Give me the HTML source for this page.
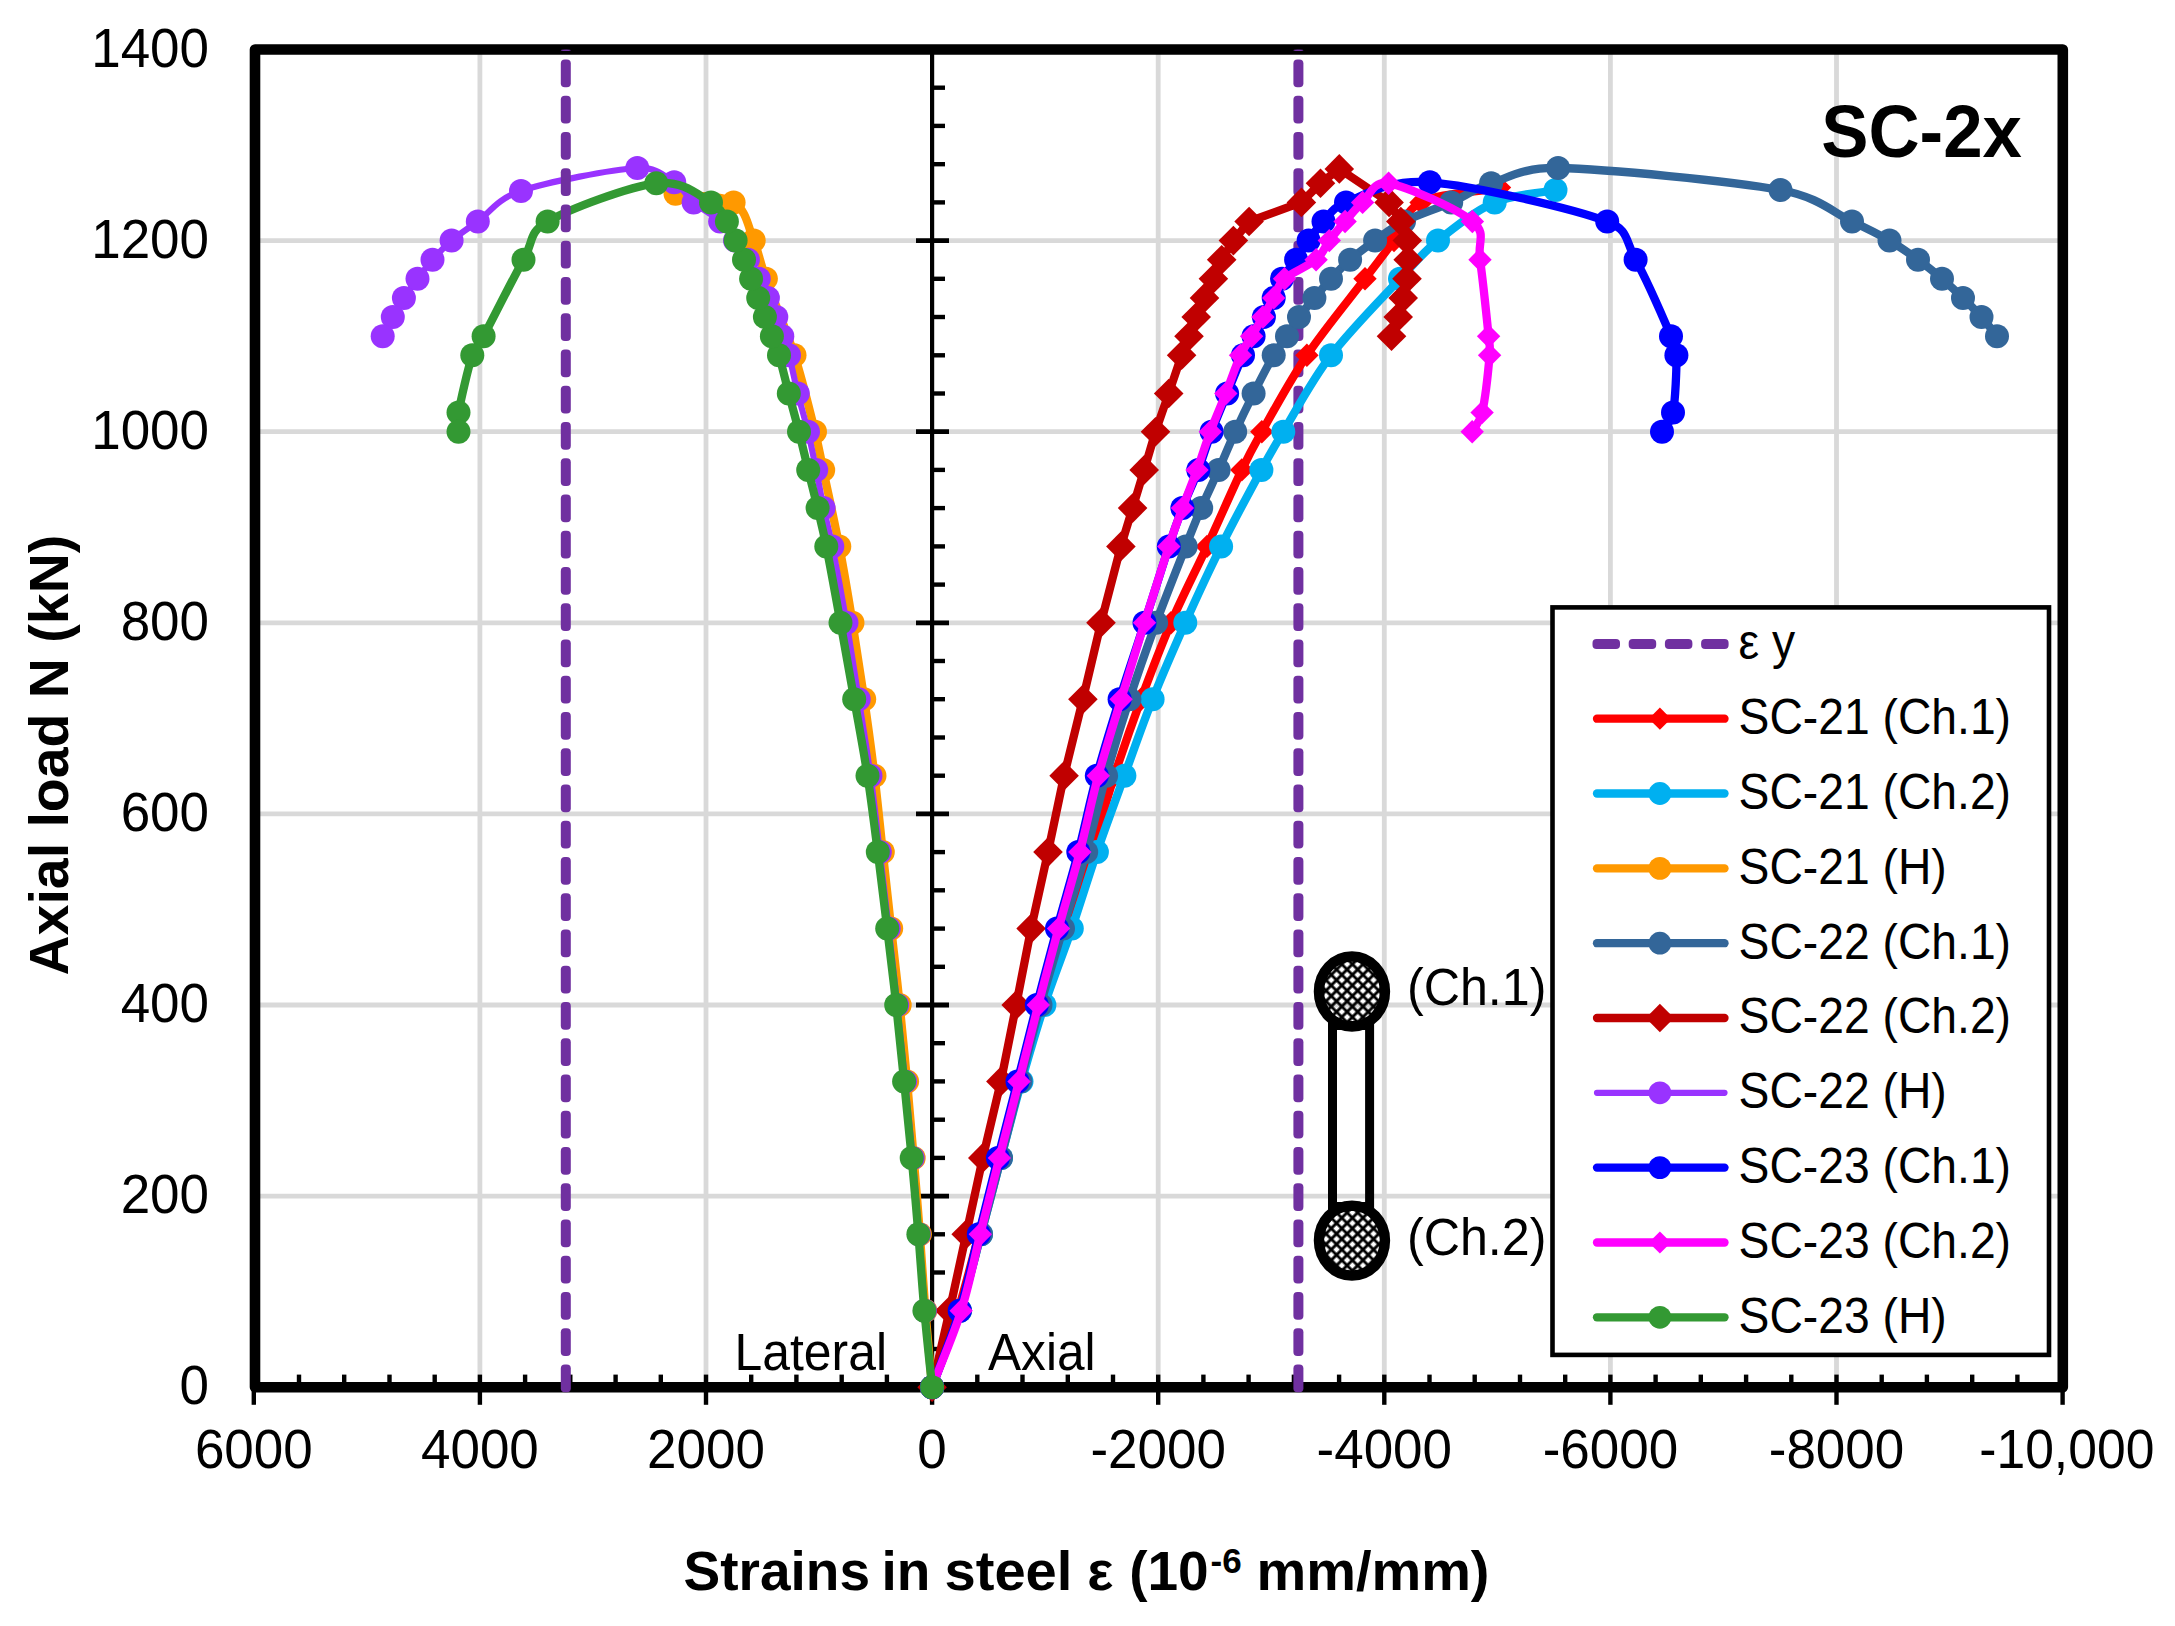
<!DOCTYPE html>
<html lang="en"><head><meta charset="utf-8"><title>SC-2x axial load vs strains in steel</title>
<style>html,body{margin:0;padding:0;background:#fff}body{width:2175px;height:1626px;overflow:hidden}svg{display:block}text{font-family:"Liberation Sans",sans-serif;fill:#000}.b{font-weight:bold}</style></head><body>
<svg width="2175" height="1626" viewBox="0 0 2175 1626">
<defs><pattern id="hatch" width="7.474" height="7.474" patternUnits="userSpaceOnUse" patternTransform="translate(1347.1 980.07) rotate(45)"><path d="M0 0H7.474M0 0V7.474M0 7.474H7.474M7.474 0V7.474" stroke="#000" stroke-width="2.9" fill="none"/></pattern></defs>
<rect width="2175" height="1626" fill="#fff"/>
<g stroke="#D9D9D9" stroke-width="4.8" fill="none"><path d="M479.9 49.5V1387.2"/><path d="M706 49.5V1387.2"/><path d="M1158.2 49.5V1387.2"/><path d="M1384.3 49.5V1387.2"/><path d="M1610.4 49.5V1387.2"/><path d="M1836.5 49.5V1387.2"/><path d="M255 1196.1H2062.8"/><path d="M255 1005H2062.8"/><path d="M255 813.9H2062.8"/><path d="M255 622.8H2062.8"/><path d="M255 431.7H2062.8"/><path d="M255 240.6H2062.8"/></g>
<rect x="255" y="49.5" width="1807.8" height="1337.7" fill="none" stroke="#000" stroke-width="10.6" stroke-linejoin="round"/>
<g stroke="#000" stroke-width="4.4" fill="none"><path d="M253.8 1374.6V1404.8"/><path d="M299 1374.6V1387.2"/><path d="M344.2 1374.6V1387.2"/><path d="M389.5 1374.6V1387.2"/><path d="M434.7 1374.6V1387.2"/><path d="M479.9 1374.6V1404.8"/><path d="M525.1 1374.6V1387.2"/><path d="M570.3 1374.6V1387.2"/><path d="M615.6 1374.6V1387.2"/><path d="M660.8 1374.6V1387.2"/><path d="M706 1374.6V1404.8"/><path d="M751.2 1374.6V1387.2"/><path d="M796.4 1374.6V1387.2"/><path d="M841.7 1374.6V1387.2"/><path d="M886.9 1374.6V1387.2"/><path d="M932.1 1374.6V1404.8"/><path d="M977.3 1374.6V1387.2"/><path d="M1022.5 1374.6V1387.2"/><path d="M1067.8 1374.6V1387.2"/><path d="M1113 1374.6V1387.2"/><path d="M1158.2 1374.6V1404.8"/><path d="M1203.4 1374.6V1387.2"/><path d="M1248.6 1374.6V1387.2"/><path d="M1293.9 1374.6V1387.2"/><path d="M1339.1 1374.6V1387.2"/><path d="M1384.3 1374.6V1404.8"/><path d="M1429.5 1374.6V1387.2"/><path d="M1474.7 1374.6V1387.2"/><path d="M1520 1374.6V1387.2"/><path d="M1565.2 1374.6V1387.2"/><path d="M1610.4 1374.6V1404.8"/><path d="M1655.6 1374.6V1387.2"/><path d="M1700.8 1374.6V1387.2"/><path d="M1746.1 1374.6V1387.2"/><path d="M1791.3 1374.6V1387.2"/><path d="M1836.5 1374.6V1404.8"/><path d="M1881.7 1374.6V1387.2"/><path d="M1926.9 1374.6V1387.2"/><path d="M1972.2 1374.6V1387.2"/><path d="M2017.4 1374.6V1387.2"/><path d="M2062.6 1374.6V1404.8"/><path d="M932.1 49.5V1387.2" stroke-width="4.2"/><path d="M932.1 1349H945"/><path d="M932.1 1310.8H945"/><path d="M932.1 1272.5H945"/><path d="M932.1 1234.3H945"/><path d="M916 1196.1H949" stroke-width="4.8"/><path d="M932.1 1157.9H945"/><path d="M932.1 1119.7H945"/><path d="M932.1 1081.4H945"/><path d="M932.1 1043.2H945"/><path d="M916 1005H949" stroke-width="4.8"/><path d="M932.1 966.8H945"/><path d="M932.1 928.6H945"/><path d="M932.1 890.3H945"/><path d="M932.1 852.1H945"/><path d="M916 813.9H949" stroke-width="4.8"/><path d="M932.1 775.7H945"/><path d="M932.1 737.5H945"/><path d="M932.1 699.2H945"/><path d="M932.1 661H945"/><path d="M916 622.8H949" stroke-width="4.8"/><path d="M932.1 584.6H945"/><path d="M932.1 546.4H945"/><path d="M932.1 508.1H945"/><path d="M932.1 469.9H945"/><path d="M916 431.7H949" stroke-width="4.8"/><path d="M932.1 393.5H945"/><path d="M932.1 355.3H945"/><path d="M932.1 317H945"/><path d="M932.1 278.8H945"/><path d="M916 240.6H949" stroke-width="4.8"/><path d="M932.1 202.4H945"/><path d="M932.1 164.2H945"/><path d="M932.1 125.9H945"/><path d="M932.1 87.7H945"/></g>
<g><text transform="translate(253.8 1467.7) scale(0.9615 1)" font-size="55.1" text-anchor="middle">6000</text><text transform="translate(479.9 1467.7) scale(0.9615 1)" font-size="55.1" text-anchor="middle">4000</text><text transform="translate(706 1467.7) scale(0.9615 1)" font-size="55.1" text-anchor="middle">2000</text><text transform="translate(932.1 1467.7) scale(0.9615 1)" font-size="55.1" text-anchor="middle">0</text><text transform="translate(1158.2 1467.7) scale(0.9615 1)" font-size="55.1" text-anchor="middle">-2000</text><text transform="translate(1384.3 1467.7) scale(0.9615 1)" font-size="55.1" text-anchor="middle">-4000</text><text transform="translate(1610.4 1467.7) scale(0.9615 1)" font-size="55.1" text-anchor="middle">-6000</text><text transform="translate(1836.5 1467.7) scale(0.9615 1)" font-size="55.1" text-anchor="middle">-8000</text><text transform="translate(2066.8 1467.7) scale(0.9375 1)" font-size="55.1" text-anchor="middle">-10,000</text><text transform="translate(209 1404.3) scale(0.9615 1)" font-size="55.1" text-anchor="end">0</text><text transform="translate(209 1213.2) scale(0.9615 1)" font-size="55.1" text-anchor="end">200</text><text transform="translate(209 1022.1) scale(0.9615 1)" font-size="55.1" text-anchor="end">400</text><text transform="translate(209 831) scale(0.9615 1)" font-size="55.1" text-anchor="end">600</text><text transform="translate(209 639.9) scale(0.9615 1)" font-size="55.1" text-anchor="end">800</text><text transform="translate(209 448.8) scale(0.9615 1)" font-size="55.1" text-anchor="end">1000</text><text transform="translate(209 257.7) scale(0.9615 1)" font-size="55.1" text-anchor="end">1200</text><text transform="translate(209 66.6) scale(0.9615 1)" font-size="55.1" text-anchor="end">1400</text></g>
<g fill="#7030A0"><rect x="1293.4" y="1364.6" width="10" height="27.7" rx="4"/><rect x="1293.4" y="1328.3" width="10" height="27.7" rx="4"/><rect x="1293.4" y="1292.1" width="10" height="27.7" rx="4"/><rect x="1293.4" y="1255.8" width="10" height="27.7" rx="4"/><rect x="1293.4" y="1219.6" width="10" height="27.7" rx="4"/><rect x="1293.4" y="1183.3" width="10" height="27.7" rx="4"/><rect x="1293.4" y="1147.1" width="10" height="27.7" rx="4"/><rect x="1293.4" y="1110.8" width="10" height="27.7" rx="4"/><rect x="1293.4" y="1074.6" width="10" height="27.7" rx="4"/><rect x="1293.4" y="1038.3" width="10" height="27.7" rx="4"/><rect x="1293.4" y="1002.1" width="10" height="27.7" rx="4"/><rect x="1293.4" y="965.8" width="10" height="27.7" rx="4"/><rect x="1293.4" y="929.6" width="10" height="27.7" rx="4"/><rect x="1293.4" y="893.3" width="10" height="27.7" rx="4"/><rect x="1293.4" y="857.1" width="10" height="27.7" rx="4"/><rect x="1293.4" y="820.8" width="10" height="27.7" rx="4"/><rect x="1293.4" y="784.6" width="10" height="27.7" rx="4"/><rect x="1293.4" y="748.3" width="10" height="27.7" rx="4"/><rect x="1293.4" y="712.1" width="10" height="27.7" rx="4"/><rect x="1293.4" y="675.8" width="10" height="27.7" rx="4"/><rect x="1293.4" y="639.6" width="10" height="27.7" rx="4"/><rect x="1293.4" y="603.3" width="10" height="27.7" rx="4"/><rect x="1293.4" y="567.1" width="10" height="27.7" rx="4"/><rect x="1293.4" y="530.8" width="10" height="27.7" rx="4"/><rect x="1293.4" y="494.6" width="10" height="27.7" rx="4"/><rect x="1293.4" y="458.3" width="10" height="27.7" rx="4"/><rect x="1293.4" y="422.1" width="10" height="27.7" rx="4"/><rect x="1293.4" y="385.8" width="10" height="27.7" rx="4"/><rect x="1293.4" y="349.6" width="10" height="27.7" rx="4"/><rect x="1293.4" y="313.3" width="10" height="27.7" rx="4"/><rect x="1293.4" y="277.1" width="10" height="27.7" rx="4"/><rect x="1293.4" y="240.8" width="10" height="27.7" rx="4"/><rect x="1293.4" y="204.6" width="10" height="27.7" rx="4"/><rect x="1293.4" y="168.3" width="10" height="27.7" rx="4"/><rect x="1293.4" y="132.1" width="10" height="27.7" rx="4"/><rect x="1293.4" y="95.8" width="10" height="27.7" rx="4"/><rect x="1293.4" y="59.6" width="10" height="27.7" rx="4"/><rect x="1293.4" y="49.5" width="10" height="1.5" rx="4"/></g>
<text x="734.5" y="1369.8" font-size="51" textLength="152.5" lengthAdjust="spacingAndGlyphs">Lateral</text>
<text x="988" y="1369.8" font-size="51" textLength="107.5" lengthAdjust="spacingAndGlyphs">Axial</text>
<g><path d="M932.1 1387.2 C940.7 1361.7 950.2 1336.2 958 1310.8 C965.8 1285.3 972.1 1259.8 979 1234.3 C985.9 1208.8 992.7 1183.4 999.5 1157.9 C1006.3 1132.4 1013.1 1106.9 1020 1081.4 C1026.9 1056 1033.3 1030.5 1041 1005 C1048.7 979.5 1057.6 954 1066 928.6 C1074.4 903.1 1083.1 877.6 1091.2 852.1 C1099.3 826.6 1106.1 801.2 1114.4 775.7 C1122.7 750.2 1131.6 724.7 1141 699.2 C1150.4 673.8 1160 648.3 1171 622.8 C1182 597.3 1195.2 571.8 1207 546.4 C1218.8 520.9 1232.7 489 1241.8 469.9 C1250.9 450.8 1251.2 450.5 1261.8 431.7 C1272.7 412.6 1289.7 380.7 1306.9 355.3 C1324.1 329.8 1350.5 297.9 1365 278.8 C1379.5 259.7 1384.7 253.3 1394 240.6 C1403.3 227.9 1403.4 211.2 1421 202.4 C1438.6 193.5 1473.3 192.5 1499.5 187.6" fill="none" stroke="#FF0000" stroke-width="8.3" stroke-linejoin="round" stroke-linecap="round"/><g fill="#FF0000"><path d="M932.1 1375.5L943.8 1387.2L932.1 1398.9L920.4 1387.2Z"/><path d="M958 1299.1L969.7 1310.8L958 1322.5L946.3 1310.8Z"/><path d="M979 1222.6L990.7 1234.3L979 1246L967.3 1234.3Z"/><path d="M999.5 1146.2L1011.2 1157.9L999.5 1169.6L987.8 1157.9Z"/><path d="M1020 1069.7L1031.7 1081.4L1020 1093.1L1008.3 1081.4Z"/><path d="M1041 993.3L1052.7 1005L1041 1016.7L1029.3 1005Z"/><path d="M1066 916.9L1077.7 928.6L1066 940.3L1054.3 928.6Z"/><path d="M1091.2 840.4L1102.9 852.1L1091.2 863.8L1079.5 852.1Z"/><path d="M1114.4 764L1126.1 775.7L1114.4 787.4L1102.7 775.7Z"/><path d="M1141 687.5L1152.7 699.2L1141 710.9L1129.3 699.2Z"/><path d="M1171 611.1L1182.7 622.8L1171 634.5L1159.3 622.8Z"/><path d="M1207 534.7L1218.7 546.4L1207 558.1L1195.3 546.4Z"/><path d="M1241.8 458.2L1253.5 469.9L1241.8 481.6L1230.1 469.9Z"/><path d="M1261.8 420L1273.5 431.7L1261.8 443.4L1250.1 431.7Z"/><path d="M1306.9 343.6L1318.6 355.3L1306.9 367L1295.2 355.3Z"/><path d="M1365 267.1L1376.7 278.8L1365 290.5L1353.3 278.8Z"/><path d="M1394 228.9L1405.7 240.6L1394 252.3L1382.3 240.6Z"/><path d="M1421 190.7L1432.7 202.4L1421 214.1L1409.3 202.4Z"/><path d="M1499.5 175.9L1511.2 187.6L1499.5 199.3L1487.8 187.6Z"/></g></g>
<g><path d="M932.1 1387.2 C941.4 1361.7 951.9 1336.2 960 1310.8 C968.1 1285.3 974.2 1259.8 981 1234.3 C987.8 1208.8 994.2 1183.4 1001 1157.9 C1007.8 1132.4 1014.3 1106.9 1021.5 1081.4 C1028.7 1056 1036 1030.5 1044.4 1005 C1052.8 979.5 1063 954 1071.8 928.6 C1080.5 903.1 1088.1 877.6 1096.9 852.1 C1105.7 826.6 1115.1 801.2 1124.4 775.7 C1133.7 750.2 1142.4 724.7 1152.6 699.2 C1162.8 673.8 1173.9 648.3 1185.3 622.8 C1196.7 597.3 1208.4 571.8 1221.1 546.4 C1233.8 520.9 1251 489 1261.4 469.9 C1271.8 450.8 1271.9 450.5 1283.3 431.7 C1294.9 412.6 1311.5 380.7 1331 355.3 C1350.5 329.8 1382.2 297.9 1400 278.8 C1417.8 259.7 1422.2 253.3 1438 240.6 C1453.8 227.9 1475.1 210.8 1494.7 202.4 C1514.3 193.9 1535.2 194.1 1555.5 190" fill="none" stroke="#00B0F0" stroke-width="8.3" stroke-linejoin="round" stroke-linecap="round"/><g fill="#00B0F0"><circle cx="932.1" cy="1387.2" r="12"/><circle cx="960" cy="1310.8" r="12"/><circle cx="981" cy="1234.3" r="12"/><circle cx="1001" cy="1157.9" r="12"/><circle cx="1021.5" cy="1081.4" r="12"/><circle cx="1044.4" cy="1005" r="12"/><circle cx="1071.8" cy="928.6" r="12"/><circle cx="1096.9" cy="852.1" r="12"/><circle cx="1124.4" cy="775.7" r="12"/><circle cx="1152.6" cy="699.2" r="12"/><circle cx="1185.3" cy="622.8" r="12"/><circle cx="1221.1" cy="546.4" r="12"/><circle cx="1261.4" cy="469.9" r="12"/><circle cx="1283.3" cy="431.7" r="12"/><circle cx="1331" cy="355.3" r="12"/><circle cx="1400" cy="278.8" r="12"/><circle cx="1438" cy="240.6" r="12"/><circle cx="1494.7" cy="202.4" r="12"/><circle cx="1555.5" cy="190" r="12"/></g></g>
<g><path d="M932.1 1387.2 C929.9 1361.7 927.4 1336.2 925.4 1310.8 C923.4 1285.3 921.8 1259.8 919.9 1234.3 C918 1208.8 915.8 1183.4 913.7 1157.9 C911.6 1132.4 909.4 1106.9 907.1 1081.4 C904.8 1056 902.4 1030.5 899.7 1005 C897.1 979.5 894 954 891.2 928.6 C888.4 903.1 885.6 877.6 882.8 852.1 C880 826.6 877.6 801.2 874.5 775.7 C871.4 750.2 867.9 724.7 864.2 699.2 C860.5 673.8 856.6 648.3 852.5 622.8 C848.4 597.3 844.2 571.8 839.3 546.4 C834.4 520.9 827.2 489 823.2 469.9 C819.2 450.8 819.7 450.7 815 431.7 C810.2 412.6 802.7 380.7 794.5 355.3 C786.3 329.8 772.7 297.9 765.9 278.8 C759.2 259.9 759.1 253.3 753.7 240.6 C748.3 227.9 746.6 210.2 733.6 202.4 C720.6 194.6 694.9 196.6 675.5 193.8" fill="none" stroke="#FF9900" stroke-width="8.3" stroke-linejoin="round" stroke-linecap="round"/><g fill="#FF9900"><circle cx="932.1" cy="1387.2" r="12"/><circle cx="925.4" cy="1310.8" r="12"/><circle cx="919.9" cy="1234.3" r="12"/><circle cx="913.7" cy="1157.9" r="12"/><circle cx="907.1" cy="1081.4" r="12"/><circle cx="899.7" cy="1005" r="12"/><circle cx="891.2" cy="928.6" r="12"/><circle cx="882.8" cy="852.1" r="12"/><circle cx="874.5" cy="775.7" r="12"/><circle cx="864.2" cy="699.2" r="12"/><circle cx="852.5" cy="622.8" r="12"/><circle cx="839.3" cy="546.4" r="12"/><circle cx="823.2" cy="469.9" r="12"/><circle cx="815" cy="431.7" r="12"/><circle cx="794.5" cy="355.3" r="12"/><circle cx="765.9" cy="278.8" r="12"/><circle cx="753.7" cy="240.6" r="12"/><circle cx="733.6" cy="202.4" r="12"/><circle cx="675.5" cy="193.8" r="12"/></g></g>
<g><path d="M932.1 1387.2 C941.4 1361.7 951.9 1336.2 960 1310.8 C968.1 1285.3 974.2 1259.8 981 1234.3 C987.8 1208.8 994.4 1183.4 1001 1157.9 C1007.6 1132.4 1013.9 1106.9 1020.5 1081.4 C1027.1 1056 1033.4 1030.5 1040.5 1005 C1047.6 979.5 1055.4 954 1063 928.6 C1070.6 903.1 1079 877.6 1086.2 852.1 C1093.4 826.6 1098.9 801.2 1106.1 775.7 C1113.3 750.2 1121.1 724.7 1129.4 699.2 C1137.7 673.8 1146.7 648.3 1156.1 622.8 C1165.5 597.3 1178.2 565.5 1185.7 546.4 C1193.2 527.2 1195.7 520.9 1201.2 508.1 C1206.7 495.4 1212.9 482.7 1218.6 469.9 C1224.3 457.2 1229.4 444.4 1235.2 431.7 C1241 419 1247.2 406.2 1253.6 393.5 C1260 380.7 1268.1 364.8 1273.7 355.3 C1279.3 345.7 1282.8 342.5 1287 336.2 C1291.2 329.8 1294.4 323.4 1299 317 C1303.6 310.7 1309.1 304.3 1314.4 297.9 C1319.7 291.6 1325 285.2 1331 278.8 C1337 272.4 1342.8 266.1 1350.1 259.7 C1357.4 253.3 1366.1 247 1375.1 240.6 C1384.1 234.2 1391.3 227.9 1404 221.5 C1416.7 215.1 1436.7 208.8 1451.2 202.4 C1465.7 196 1473.3 189 1491.1 183.3 C1508.9 177.5 1523.7 167.2 1558.1 168 C1606.3 169.1 1731.5 181 1780.5 190 C1818.9 197 1833.8 213 1852 221.5 C1870.2 229.9 1878.5 234.2 1889.5 240.6 C1900.5 247 1909.2 253.3 1918 259.7 C1926.8 266.1 1934.5 272.4 1942 278.8 C1949.5 285.2 1956.4 291.6 1963 297.9 C1969.6 304.3 1975.8 310.7 1981.5 317 C1987.2 323.4 1991.8 329.8 1997 336.2" fill="none" stroke="#336699" stroke-width="8.3" stroke-linejoin="round" stroke-linecap="round"/><g fill="#336699"><circle cx="932.1" cy="1387.2" r="12"/><circle cx="960" cy="1310.8" r="12"/><circle cx="981" cy="1234.3" r="12"/><circle cx="1001" cy="1157.9" r="12"/><circle cx="1020.5" cy="1081.4" r="12"/><circle cx="1040.5" cy="1005" r="12"/><circle cx="1063" cy="928.6" r="12"/><circle cx="1086.2" cy="852.1" r="12"/><circle cx="1106.1" cy="775.7" r="12"/><circle cx="1129.4" cy="699.2" r="12"/><circle cx="1156.1" cy="622.8" r="12"/><circle cx="1185.7" cy="546.4" r="12"/><circle cx="1201.2" cy="508.1" r="12"/><circle cx="1218.6" cy="469.9" r="12"/><circle cx="1235.2" cy="431.7" r="12"/><circle cx="1253.6" cy="393.5" r="12"/><circle cx="1273.7" cy="355.3" r="12"/><circle cx="1287" cy="336.2" r="12"/><circle cx="1299" cy="317" r="12"/><circle cx="1314.4" cy="297.9" r="12"/><circle cx="1331" cy="278.8" r="12"/><circle cx="1350.1" cy="259.7" r="12"/><circle cx="1375.1" cy="240.6" r="12"/><circle cx="1404" cy="221.5" r="12"/><circle cx="1451.2" cy="202.4" r="12"/><circle cx="1491.1" cy="183.3" r="12"/><circle cx="1558.1" cy="168" r="12"/><circle cx="1780.5" cy="190" r="12"/><circle cx="1852" cy="221.5" r="12"/><circle cx="1889.5" cy="240.6" r="12"/><circle cx="1918" cy="259.7" r="12"/><circle cx="1942" cy="278.8" r="12"/><circle cx="1963" cy="297.9" r="12"/><circle cx="1981.5" cy="317" r="12"/><circle cx="1997" cy="336.2" r="12"/></g></g>
<g><path d="M932.1 1387.2 L949.6 1310.8 L966.2 1234.3 L982.8 1157.9 L1000.9 1081.4 L1016.2 1005 L1031.1 928.6 L1048 852.1 L1064.1 775.7 L1082.9 699.2 L1101 622.8 L1120.9 546.4 L1132.6 508.1 L1144.2 469.9 L1155.5 431.7 L1168.7 393.5 L1181.6 355.3 L1189 336.2 L1196.2 317 L1204.5 297.9 L1213.4 278.8 L1221.7 259.7 L1233.4 240.6 L1249.1 221.5 L1301.4 202.4 L1320.5 183.3 L1339.3 168.9 L1389.1 202.4 L1400.8 221.5 L1407.3 240.6 L1408.2 259.7 L1407 278.8 L1403.2 297.9 L1398.2 317 L1391.5 336.2" fill="none" stroke="#C00000" stroke-width="8.3" stroke-linejoin="round" stroke-linecap="round"/><g fill="#C00000"><path d="M932.1 1372.4L946.9 1387.2L932.1 1402L917.3 1387.2Z"/><path d="M949.6 1296L964.4 1310.8L949.6 1325.6L934.8 1310.8Z"/><path d="M966.2 1219.5L981 1234.3L966.2 1249.1L951.4 1234.3Z"/><path d="M982.8 1143.1L997.6 1157.9L982.8 1172.7L968 1157.9Z"/><path d="M1000.9 1066.6L1015.7 1081.4L1000.9 1096.2L986.1 1081.4Z"/><path d="M1016.2 990.2L1031 1005L1016.2 1019.8L1001.4 1005Z"/><path d="M1031.1 913.8L1045.9 928.6L1031.1 943.4L1016.3 928.6Z"/><path d="M1048 837.3L1062.8 852.1L1048 866.9L1033.2 852.1Z"/><path d="M1064.1 760.9L1078.9 775.7L1064.1 790.5L1049.3 775.7Z"/><path d="M1082.9 684.4L1097.7 699.2L1082.9 714L1068.1 699.2Z"/><path d="M1101 608L1115.8 622.8L1101 637.6L1086.2 622.8Z"/><path d="M1120.9 531.6L1135.7 546.4L1120.9 561.2L1106.1 546.4Z"/><path d="M1132.6 493.3L1147.4 508.1L1132.6 522.9L1117.8 508.1Z"/><path d="M1144.2 455.1L1159 469.9L1144.2 484.7L1129.4 469.9Z"/><path d="M1155.5 416.9L1170.3 431.7L1155.5 446.5L1140.7 431.7Z"/><path d="M1168.7 378.7L1183.5 393.5L1168.7 408.3L1153.9 393.5Z"/><path d="M1181.6 340.5L1196.4 355.3L1181.6 370.1L1166.8 355.3Z"/><path d="M1189 321.4L1203.8 336.2L1189 351L1174.2 336.2Z"/><path d="M1196.2 302.2L1211 317L1196.2 331.8L1181.4 317Z"/><path d="M1204.5 283.1L1219.3 297.9L1204.5 312.7L1189.7 297.9Z"/><path d="M1213.4 264L1228.2 278.8L1213.4 293.6L1198.6 278.8Z"/><path d="M1221.7 244.9L1236.5 259.7L1221.7 274.5L1206.9 259.7Z"/><path d="M1233.4 225.8L1248.2 240.6L1233.4 255.4L1218.6 240.6Z"/><path d="M1249.1 206.7L1263.9 221.5L1249.1 236.3L1234.3 221.5Z"/><path d="M1301.4 187.6L1316.2 202.4L1301.4 217.2L1286.6 202.4Z"/><path d="M1320.5 168.5L1335.3 183.3L1320.5 198.1L1305.7 183.3Z"/><path d="M1339.3 154.1L1354.1 168.9L1339.3 183.7L1324.5 168.9Z"/><path d="M1389.1 187.6L1403.9 202.4L1389.1 217.2L1374.3 202.4Z"/><path d="M1400.8 206.7L1415.6 221.5L1400.8 236.3L1386 221.5Z"/><path d="M1407.3 225.8L1422.1 240.6L1407.3 255.4L1392.5 240.6Z"/><path d="M1408.2 244.9L1423 259.7L1408.2 274.5L1393.4 259.7Z"/><path d="M1407 264L1421.8 278.8L1407 293.6L1392.2 278.8Z"/><path d="M1403.2 283.1L1418 297.9L1403.2 312.7L1388.4 297.9Z"/><path d="M1398.2 302.2L1413 317L1398.2 331.8L1383.4 317Z"/><path d="M1391.5 321.4L1406.3 336.2L1391.5 351L1376.7 336.2Z"/></g></g>
<g><path d="M932.1 1387.2 C929.7 1361.7 927.1 1336.2 924.9 1310.8 C922.7 1285.3 920.9 1259.8 918.9 1234.3 C916.9 1208.8 915 1183.4 912.7 1157.9 C910.4 1132.4 907.7 1106.9 905.1 1081.4 C902.5 1056 899.9 1030.5 897.2 1005 C894.5 979.5 891.6 954 888.7 928.6 C885.8 903.1 882.8 877.6 879.8 852.1 C876.8 826.6 874 801.2 870.5 775.7 C867 750.2 862.7 724.7 858.7 699.2 C854.7 673.8 850.9 648.3 846.5 622.8 C842.1 597.3 836.1 565.5 832.3 546.4 C828.5 527.2 826.3 520.9 823.6 508.1 C820.9 495.4 818.8 482.7 816.2 469.9 C813.6 457.2 811.1 444.4 808 431.7 C804.9 419 801 406.2 797.8 393.5 C794.6 380.7 791.6 364.8 789 355.3 C786.4 345.7 784.4 342.5 782.3 336.2 C780.2 329.8 778.7 323.4 776.3 317 C773.9 310.7 770.8 304.3 767.9 297.9 C765 291.6 762.1 285.2 758.8 278.8 C755.5 272.4 751.9 266.1 747.9 259.7 C743.9 253.3 739.6 247 735 240.6 C730.4 234.2 727 227.9 720.1 221.5 C713.2 215.1 701.2 208.9 693.6 202.4 C686 195.9 683.6 188 674.2 182.3 C664.8 176.6 657.1 166.9 637.3 168 C611.8 169.4 547.6 182 521 190.9 C495.9 199.3 489.4 213.2 477.8 221.5 C466.2 229.8 459.2 234.2 451.6 240.6 C444.1 247 438.2 253.3 432.5 259.7 C426.8 266.1 422.3 272.4 417.5 278.8 C412.7 285.2 408 291.6 403.9 297.9 C399.8 304.3 396.3 310.7 392.8 317 C389.3 323.4 386.1 329.8 382.7 336.2" fill="none" stroke="#9933FF" stroke-width="6.2" stroke-linejoin="round" stroke-linecap="round"/><g fill="#9933FF"><circle cx="932.1" cy="1387.2" r="12"/><circle cx="924.9" cy="1310.8" r="12"/><circle cx="918.9" cy="1234.3" r="12"/><circle cx="912.7" cy="1157.9" r="12"/><circle cx="905.1" cy="1081.4" r="12"/><circle cx="897.2" cy="1005" r="12"/><circle cx="888.7" cy="928.6" r="12"/><circle cx="879.8" cy="852.1" r="12"/><circle cx="870.5" cy="775.7" r="12"/><circle cx="858.7" cy="699.2" r="12"/><circle cx="846.5" cy="622.8" r="12"/><circle cx="832.3" cy="546.4" r="12"/><circle cx="823.6" cy="508.1" r="12"/><circle cx="816.2" cy="469.9" r="12"/><circle cx="808" cy="431.7" r="12"/><circle cx="797.8" cy="393.5" r="12"/><circle cx="789" cy="355.3" r="12"/><circle cx="782.3" cy="336.2" r="12"/><circle cx="776.3" cy="317" r="12"/><circle cx="767.9" cy="297.9" r="12"/><circle cx="758.8" cy="278.8" r="12"/><circle cx="747.9" cy="259.7" r="12"/><circle cx="735" cy="240.6" r="12"/><circle cx="720.1" cy="221.5" r="12"/><circle cx="693.6" cy="202.4" r="12"/><circle cx="674.2" cy="182.3" r="12"/><circle cx="637.3" cy="168" r="12"/><circle cx="521" cy="190.9" r="12"/><circle cx="477.8" cy="221.5" r="12"/><circle cx="451.6" cy="240.6" r="12"/><circle cx="432.5" cy="259.7" r="12"/><circle cx="417.5" cy="278.8" r="12"/><circle cx="403.9" cy="297.9" r="12"/><circle cx="392.8" cy="317" r="12"/><circle cx="382.7" cy="336.2" r="12"/></g></g>
<g><path d="M932.1 1387.2 C941.3 1361.7 951.9 1336.2 959.7 1310.8 C967.5 1285.3 972.4 1259.8 978.8 1234.3 C985.2 1208.8 991.4 1183.4 997.9 1157.9 C1004.4 1132.4 1011 1106.9 1017.5 1081.4 C1024 1056 1030.2 1030.5 1036.8 1005 C1043.4 979.5 1050.1 954 1057 928.6 C1063.9 903.1 1071.7 877.6 1078.3 852.1 C1084.9 826.6 1089.9 801.2 1096.8 775.7 C1103.7 750.2 1111.6 724.7 1119.6 699.2 C1127.5 673.8 1136.3 648.3 1144.5 622.8 C1152.7 597.3 1162.5 565.5 1168.8 546.4 C1175.1 527.2 1177.5 520.9 1182.4 508.1 C1187.3 495.4 1193.4 482.7 1198.3 469.9 C1203.2 457.2 1206.8 444.4 1211.6 431.7 C1216.4 419 1221.9 406.2 1227.1 393.5 C1232.3 380.7 1238.6 364.8 1243 355.3 C1247.4 345.7 1250.1 342.5 1253.6 336.2 C1257.1 329.8 1260.6 323.4 1263.9 317 C1267.2 310.7 1270.7 304.3 1273.7 297.9 C1276.7 291.6 1278.3 285.2 1282 278.8 C1285.7 272.4 1291.7 266.1 1296.1 259.7 C1300.5 253.3 1304 247 1308.6 240.6 C1313.2 234.2 1317.3 227.9 1323.5 221.5 C1329.7 215.1 1332.2 207.5 1346 202.4 C1363.7 195.9 1386.8 179.2 1429.8 182.3 C1473.3 185.5 1572.9 208.6 1607.2 221.5 C1629.5 229.9 1625 240.6 1635.6 259.7 C1646.2 278.8 1664.2 320.2 1671 336.2 C1674.9 345.3 1676.1 345.3 1676.4 355.3 C1676.7 368 1675.4 399.9 1673 412.6 C1671 423.4 1665.7 425.3 1662 431.7" fill="none" stroke="#0000FF" stroke-width="8.3" stroke-linejoin="round" stroke-linecap="round"/><g fill="#0000FF"><circle cx="932.1" cy="1387.2" r="12"/><circle cx="959.7" cy="1310.8" r="12"/><circle cx="978.8" cy="1234.3" r="12"/><circle cx="997.9" cy="1157.9" r="12"/><circle cx="1017.5" cy="1081.4" r="12"/><circle cx="1036.8" cy="1005" r="12"/><circle cx="1057" cy="928.6" r="12"/><circle cx="1078.3" cy="852.1" r="12"/><circle cx="1096.8" cy="775.7" r="12"/><circle cx="1119.6" cy="699.2" r="12"/><circle cx="1144.5" cy="622.8" r="12"/><circle cx="1168.8" cy="546.4" r="12"/><circle cx="1182.4" cy="508.1" r="12"/><circle cx="1198.3" cy="469.9" r="12"/><circle cx="1211.6" cy="431.7" r="12"/><circle cx="1227.1" cy="393.5" r="12"/><circle cx="1243" cy="355.3" r="12"/><circle cx="1253.6" cy="336.2" r="12"/><circle cx="1263.9" cy="317" r="12"/><circle cx="1273.7" cy="297.9" r="12"/><circle cx="1282" cy="278.8" r="12"/><circle cx="1296.1" cy="259.7" r="12"/><circle cx="1308.6" cy="240.6" r="12"/><circle cx="1323.5" cy="221.5" r="12"/><circle cx="1346" cy="202.4" r="12"/><circle cx="1429.8" cy="182.3" r="12"/><circle cx="1607.2" cy="221.5" r="12"/><circle cx="1635.6" cy="259.7" r="12"/><circle cx="1671" cy="336.2" r="12"/><circle cx="1676.4" cy="355.3" r="12"/><circle cx="1673" cy="412.6" r="12"/><circle cx="1662" cy="431.7" r="12"/></g></g>
<g><path d="M932.1 1387.2 C941.8 1361.7 953.2 1336.2 961.2 1310.8 C969.2 1285.3 973.9 1259.8 980.3 1234.3 C986.7 1208.8 992.9 1183.4 999.4 1157.9 C1005.9 1132.4 1012.5 1106.9 1019 1081.4 C1025.5 1056 1031.7 1030.5 1038.3 1005 C1044.9 979.5 1051.6 954 1058.5 928.6 C1065.4 903.1 1073.2 877.6 1079.8 852.1 C1086.4 826.6 1091.4 801.2 1098.3 775.7 C1105.2 750.2 1113.4 724.7 1121.1 699.2 C1128.8 673.8 1136.5 648.3 1144.5 622.8 C1152.5 597.3 1162.5 565.5 1168.8 546.4 C1175.1 527.2 1177.7 520.9 1182.4 508.1 C1187.1 495.4 1192.3 482.7 1197 469.9 C1201.7 457.2 1205.5 444.4 1210.3 431.7 C1215.1 419 1220.8 406.2 1225.8 393.5 C1230.8 380.7 1236.2 364.8 1240.5 355.3 C1244.8 345.7 1247.9 342.5 1251.6 336.2 C1255.3 329.8 1259.2 323.4 1262.9 317 C1266.6 310.7 1270.1 304.3 1273.7 297.9 C1277.3 291.6 1277.4 285.2 1284.5 278.8 C1291.6 272.4 1308.6 266.1 1316.1 259.7 C1323.6 253.3 1324.5 247 1329.3 240.6 C1334.1 234.2 1339.5 227.9 1345.1 221.5 C1350.6 215.1 1355.3 208.8 1362.6 202.4 C1369.8 196 1372.7 180.5 1388.6 183.3 C1406.9 186.5 1457.2 208.8 1472.4 221.5 C1487.3 234 1477.3 240.6 1480 259.7 C1482.7 278.8 1487 320.2 1488.6 336.2 C1489.6 345.7 1490.4 345.7 1489.6 355.3 C1488.5 368 1485 399.9 1482.1 412.6 C1479.7 423.1 1475.5 425.3 1472.2 431.7" fill="none" stroke="#FF00FF" stroke-width="8.3" stroke-linejoin="round" stroke-linecap="round"/><g fill="#FF00FF"><path d="M932.1 1375.5L943.8 1387.2L932.1 1398.9L920.4 1387.2Z"/><path d="M961.2 1299.1L972.9 1310.8L961.2 1322.5L949.5 1310.8Z"/><path d="M980.3 1222.6L992 1234.3L980.3 1246L968.6 1234.3Z"/><path d="M999.4 1146.2L1011.1 1157.9L999.4 1169.6L987.7 1157.9Z"/><path d="M1019 1069.7L1030.7 1081.4L1019 1093.1L1007.3 1081.4Z"/><path d="M1038.3 993.3L1050 1005L1038.3 1016.7L1026.6 1005Z"/><path d="M1058.5 916.9L1070.2 928.6L1058.5 940.3L1046.8 928.6Z"/><path d="M1079.8 840.4L1091.5 852.1L1079.8 863.8L1068.1 852.1Z"/><path d="M1098.3 764L1110 775.7L1098.3 787.4L1086.6 775.7Z"/><path d="M1121.1 687.5L1132.8 699.2L1121.1 710.9L1109.4 699.2Z"/><path d="M1144.5 611.1L1156.2 622.8L1144.5 634.5L1132.8 622.8Z"/><path d="M1168.8 534.7L1180.5 546.4L1168.8 558.1L1157.1 546.4Z"/><path d="M1182.4 496.4L1194.1 508.1L1182.4 519.8L1170.7 508.1Z"/><path d="M1197 458.2L1208.7 469.9L1197 481.6L1185.3 469.9Z"/><path d="M1210.3 420L1222 431.7L1210.3 443.4L1198.6 431.7Z"/><path d="M1225.8 381.8L1237.5 393.5L1225.8 405.2L1214.1 393.5Z"/><path d="M1240.5 343.6L1252.2 355.3L1240.5 367L1228.8 355.3Z"/><path d="M1251.6 324.5L1263.3 336.2L1251.6 347.9L1239.9 336.2Z"/><path d="M1262.9 305.3L1274.6 317L1262.9 328.7L1251.2 317Z"/><path d="M1273.7 286.2L1285.4 297.9L1273.7 309.6L1262 297.9Z"/><path d="M1284.5 267.1L1296.2 278.8L1284.5 290.5L1272.8 278.8Z"/><path d="M1316.1 248L1327.8 259.7L1316.1 271.4L1304.4 259.7Z"/><path d="M1329.3 228.9L1341 240.6L1329.3 252.3L1317.6 240.6Z"/><path d="M1345.1 209.8L1356.8 221.5L1345.1 233.2L1333.4 221.5Z"/><path d="M1362.6 190.7L1374.3 202.4L1362.6 214.1L1350.9 202.4Z"/><path d="M1388.6 171.6L1400.3 183.3L1388.6 195L1376.9 183.3Z"/><path d="M1472.4 209.8L1484.1 221.5L1472.4 233.2L1460.7 221.5Z"/><path d="M1480 248L1491.7 259.7L1480 271.4L1468.3 259.7Z"/><path d="M1488.6 324.5L1500.3 336.2L1488.6 347.9L1476.9 336.2Z"/><path d="M1489.6 343.6L1501.3 355.3L1489.6 367L1477.9 355.3Z"/><path d="M1482.1 400.9L1493.8 412.6L1482.1 424.3L1470.4 412.6Z"/><path d="M1472.2 420L1483.9 431.7L1472.2 443.4L1460.5 431.7Z"/></g></g>
<g><path d="M932.1 1387.2 C929.5 1361.7 926.7 1336.2 924.4 1310.8 C922.1 1285.3 920.5 1259.8 918.4 1234.3 C916.3 1208.8 914.1 1183.4 911.7 1157.9 C909.3 1132.4 906.7 1106.9 904.1 1081.4 C901.5 1056 899 1030.5 896.2 1005 C893.4 979.5 890.3 954 887.2 928.6 C884.1 903.1 881.1 877.6 877.8 852.1 C874.5 826.6 871.4 801.2 867.5 775.7 C863.6 750.2 858.7 724.7 854.2 699.2 C849.7 673.8 845.1 648.3 840.5 622.8 C835.9 597.3 830.1 565.5 826.3 546.4 C822.5 527.2 820.6 520.9 817.6 508.1 C814.6 495.4 811.3 482.7 808.2 469.9 C805.1 457.2 802.2 444.4 799 431.7 C795.8 419 792.1 406.2 788.8 393.5 C785.5 380.7 781.8 364.8 779 355.3 C776.2 345.7 774.2 342.5 771.9 336.2 C769.5 329.8 767.2 323.4 764.9 317 C762.6 310.7 760.5 304.3 758.2 297.9 C755.9 291.6 753.5 285.2 751.1 278.8 C748.7 272.4 746.6 266.1 744 259.7 C741.4 253.3 738.5 247 735.6 240.6 C732.8 234.2 731 227.9 726.9 221.5 C722.8 215.1 721.9 208.3 711 202.4 C699.2 196 683.5 180.1 656.3 183.3 C629.1 186.5 569.7 208.8 547.6 221.5 C528 232.8 534.2 240.6 523.5 259.7 C512.8 278.8 492.1 320.2 483.6 336.2 C478.4 345.9 475.8 344.7 472.3 355.3 C468.1 368 460.8 399.9 458.5 412.6 C456.8 422 458.5 425.3 458.5 431.7" fill="none" stroke="#339933" stroke-width="8.3" stroke-linejoin="round" stroke-linecap="round"/><g fill="#339933"><circle cx="932.1" cy="1387.2" r="12"/><circle cx="924.4" cy="1310.8" r="12"/><circle cx="918.4" cy="1234.3" r="12"/><circle cx="911.7" cy="1157.9" r="12"/><circle cx="904.1" cy="1081.4" r="12"/><circle cx="896.2" cy="1005" r="12"/><circle cx="887.2" cy="928.6" r="12"/><circle cx="877.8" cy="852.1" r="12"/><circle cx="867.5" cy="775.7" r="12"/><circle cx="854.2" cy="699.2" r="12"/><circle cx="840.5" cy="622.8" r="12"/><circle cx="826.3" cy="546.4" r="12"/><circle cx="817.6" cy="508.1" r="12"/><circle cx="808.2" cy="469.9" r="12"/><circle cx="799" cy="431.7" r="12"/><circle cx="788.8" cy="393.5" r="12"/><circle cx="779" cy="355.3" r="12"/><circle cx="771.9" cy="336.2" r="12"/><circle cx="764.9" cy="317" r="12"/><circle cx="758.2" cy="297.9" r="12"/><circle cx="751.1" cy="278.8" r="12"/><circle cx="744" cy="259.7" r="12"/><circle cx="735.6" cy="240.6" r="12"/><circle cx="726.9" cy="221.5" r="12"/><circle cx="711" cy="202.4" r="12"/><circle cx="656.3" cy="183.3" r="12"/><circle cx="547.6" cy="221.5" r="12"/><circle cx="523.5" cy="259.7" r="12"/><circle cx="483.6" cy="336.2" r="12"/><circle cx="472.3" cy="355.3" r="12"/><circle cx="458.5" cy="412.6" r="12"/><circle cx="458.5" cy="431.7" r="12"/></g></g>
<g fill="#7030A0"><rect x="560.8" y="1364.6" width="10" height="27.7" rx="4"/><rect x="560.8" y="1328.3" width="10" height="27.7" rx="4"/><rect x="560.8" y="1292.1" width="10" height="27.7" rx="4"/><rect x="560.8" y="1255.8" width="10" height="27.7" rx="4"/><rect x="560.8" y="1219.6" width="10" height="27.7" rx="4"/><rect x="560.8" y="1183.3" width="10" height="27.7" rx="4"/><rect x="560.8" y="1147.1" width="10" height="27.7" rx="4"/><rect x="560.8" y="1110.8" width="10" height="27.7" rx="4"/><rect x="560.8" y="1074.6" width="10" height="27.7" rx="4"/><rect x="560.8" y="1038.3" width="10" height="27.7" rx="4"/><rect x="560.8" y="1002.1" width="10" height="27.7" rx="4"/><rect x="560.8" y="965.8" width="10" height="27.7" rx="4"/><rect x="560.8" y="929.6" width="10" height="27.7" rx="4"/><rect x="560.8" y="893.3" width="10" height="27.7" rx="4"/><rect x="560.8" y="857.1" width="10" height="27.7" rx="4"/><rect x="560.8" y="820.8" width="10" height="27.7" rx="4"/><rect x="560.8" y="784.6" width="10" height="27.7" rx="4"/><rect x="560.8" y="748.3" width="10" height="27.7" rx="4"/><rect x="560.8" y="712.1" width="10" height="27.7" rx="4"/><rect x="560.8" y="675.8" width="10" height="27.7" rx="4"/><rect x="560.8" y="639.6" width="10" height="27.7" rx="4"/><rect x="560.8" y="603.3" width="10" height="27.7" rx="4"/><rect x="560.8" y="567.1" width="10" height="27.7" rx="4"/><rect x="560.8" y="530.8" width="10" height="27.7" rx="4"/><rect x="560.8" y="494.6" width="10" height="27.7" rx="4"/><rect x="560.8" y="458.3" width="10" height="27.7" rx="4"/><rect x="560.8" y="422.1" width="10" height="27.7" rx="4"/><rect x="560.8" y="385.8" width="10" height="27.7" rx="4"/><rect x="560.8" y="349.6" width="10" height="27.7" rx="4"/><rect x="560.8" y="313.3" width="10" height="27.7" rx="4"/><rect x="560.8" y="277.1" width="10" height="27.7" rx="4"/><rect x="560.8" y="240.8" width="10" height="27.7" rx="4"/><rect x="560.8" y="204.6" width="10" height="27.7" rx="4"/><rect x="560.8" y="168.3" width="10" height="27.7" rx="4"/><rect x="560.8" y="132.1" width="10" height="27.7" rx="4"/><rect x="560.8" y="95.8" width="10" height="27.7" rx="4"/><rect x="560.8" y="59.6" width="10" height="27.7" rx="4"/><rect x="560.8" y="49.5" width="10" height="1.5" rx="4"/></g>
<rect x="1332.5" y="1025.5" width="37.1" height="181" fill="none" stroke="#000" stroke-width="9"/>
<ellipse cx="1351.95" cy="991.5" rx="33" ry="35" fill="url(#hatch)" stroke="#000" stroke-width="10.4"/>
<ellipse cx="1351.95" cy="1240.6" rx="33" ry="35" fill="url(#hatch)" stroke="#000" stroke-width="10.4"/>
<text transform="translate(1407 1005) scale(0.9615 1)" font-size="52.2">(Ch.1)</text><text transform="translate(1407 1255.3) scale(0.9615 1)" font-size="52.2">(Ch.2)</text>
<rect x="1552.5" y="607.4" width="496.5" height="747.5" fill="#fff" stroke="#000" stroke-width="4.6"/>
<g fill="#7030A0"><rect x="1592.5" y="638.9" width="27.5" height="10" rx="4"/><rect x="1628.7" y="638.9" width="27.5" height="10" rx="4"/><rect x="1664.9" y="638.9" width="27.5" height="10" rx="4"/><rect x="1701.1" y="638.9" width="27.5" height="10" rx="4"/></g>
<text transform="translate(1738.6 659.2) scale(0.9346 1)" font-size="49.5">ε y</text>
<g fill="#FF0000"><path d="M1597 718.7H1724.5" stroke="#FF0000" stroke-width="8.3" stroke-linecap="round"/><path d="M1659.9 707.6L1671 718.7L1659.9 729.8L1648.8 718.7Z"/></g>
<text transform="translate(1738.6 734) scale(0.9346 1)" font-size="49.5">SC-21 (Ch.1)</text>
<g fill="#00B0F0"><path d="M1597 793.5H1724.5" stroke="#00B0F0" stroke-width="8.3" stroke-linecap="round"/><circle cx="1659.9" cy="793.5" r="11.4"/></g>
<text transform="translate(1738.6 808.8) scale(0.9346 1)" font-size="49.5">SC-21 (Ch.2)</text>
<g fill="#FF9900"><path d="M1597 868.4H1724.5" stroke="#FF9900" stroke-width="8.3" stroke-linecap="round"/><circle cx="1659.9" cy="868.4" r="11.4"/></g>
<text transform="translate(1738.6 883.7) scale(0.9346 1)" font-size="49.5">SC-21 (H)</text>
<g fill="#336699"><path d="M1597 943.2H1724.5" stroke="#336699" stroke-width="8.3" stroke-linecap="round"/><circle cx="1659.9" cy="943.2" r="11.4"/></g>
<text transform="translate(1738.6 958.5) scale(0.9346 1)" font-size="49.5">SC-22 (Ch.1)</text>
<g fill="#C00000"><path d="M1597 1018H1724.5" stroke="#C00000" stroke-width="8.3" stroke-linecap="round"/><path d="M1659.9 1003.8L1674.1 1018L1659.9 1032.2L1645.7 1018Z"/></g>
<text transform="translate(1738.6 1033.3) scale(0.9346 1)" font-size="49.5">SC-22 (Ch.2)</text>
<g fill="#9933FF"><path d="M1597 1092.8H1724.5" stroke="#9933FF" stroke-width="6.2" stroke-linecap="round"/><circle cx="1659.9" cy="1092.8" r="11.4"/></g>
<text transform="translate(1738.6 1108.1) scale(0.9346 1)" font-size="49.5">SC-22 (H)</text>
<g fill="#0000FF"><path d="M1597 1167.6H1724.5" stroke="#0000FF" stroke-width="8.3" stroke-linecap="round"/><circle cx="1659.9" cy="1167.6" r="11.4"/></g>
<text transform="translate(1738.6 1182.9) scale(0.9346 1)" font-size="49.5">SC-23 (Ch.1)</text>
<g fill="#FF00FF"><path d="M1597 1242.5H1724.5" stroke="#FF00FF" stroke-width="8.3" stroke-linecap="round"/><path d="M1659.9 1231.4L1671 1242.5L1659.9 1253.6L1648.8 1242.5Z"/></g>
<text transform="translate(1738.6 1257.8) scale(0.9346 1)" font-size="49.5">SC-23 (Ch.2)</text>
<g fill="#339933"><path d="M1597 1317.3H1724.5" stroke="#339933" stroke-width="8.3" stroke-linecap="round"/><circle cx="1659.9" cy="1317.3" r="11.4"/></g>
<text transform="translate(1738.6 1332.6) scale(0.9346 1)" font-size="49.5">SC-23 (H)</text>
<text transform="translate(1821.3 157) scale(0.9615 1)" font-size="73.6" class="b">SC-2x</text>
<text transform="translate(683.5 1589.7) scale(0.9950 1)" font-size="55.3" class="b">Strains</text>
<text transform="translate(881.5 1589.7) scale(0.9950 1)" font-size="55.3" class="b">in</text>
<text transform="translate(944.5 1589.7) scale(1.0149 1)" font-size="55.3" class="b">steel</text>
<text transform="translate(1087.2 1589.7) scale(0.9950 1)" font-size="55.3" class="b">ε</text>
<text transform="translate(1129.2 1589.7) scale(0.9950 1)" font-size="55.3" class="b">(10</text>
<text transform="translate(1210.6 1573.3) scale(0.9950 1)" font-size="35.2" class="b">-6</text>
<text transform="translate(1256.5 1589.7) scale(1.0109 1)" font-size="55.3" class="b">mm/mm)</text>
<text class="b" transform="translate(67.9 975.5) rotate(-90) scale(0.9852 1)" font-size="56.3">Axial load N (kN)</text>
</svg></body></html>
